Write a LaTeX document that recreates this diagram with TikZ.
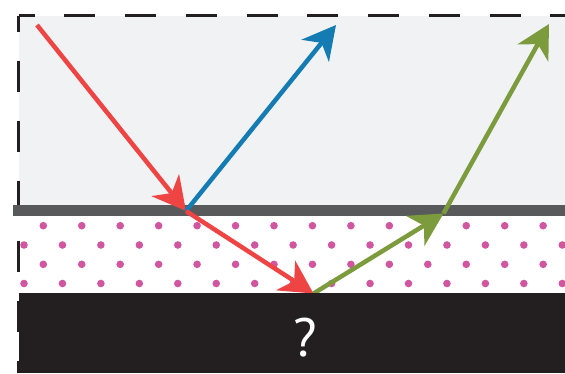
\documentclass[tikz,border=0pt]{standalone}
\usepackage{fontspec}
\setmainfont{PT Sans}
\usetikzlibrary{arrows.meta}
\definecolor{bgc}{HTML}{F1F2F4}
\definecolor{inkc}{HTML}{231F20}
\definecolor{barc}{HTML}{58595B}
\definecolor{dotc}{HTML}{D056A0}
\definecolor{redc}{HTML}{EF4444}
\definecolor{bluec}{HTML}{157CB3}
\definecolor{greenc}{HTML}{7B9B3C}
\tikzset{
  ray/.style={line width=4.5pt, -{Stealth[length=33pt,width=35pt,inset=10pt]}},
  border/.style={draw=inkc, line width=2.7pt},
}
\begin{document}
\begin{tikzpicture}[x=1pt,y=-1pt]
\useasboundingbox (0,0) rectangle (565,373);
% upper medium
\fill[bgc] (18.5,16) rectangle (565,205);
% dashed border
\draw[border, dash pattern=on 31pt off 29.75pt, dash phase=15pt] (18.5,15.7) -- (565,15.7);
\draw[border, dash pattern=on 31pt off 29pt, dash phase=15pt] (18.5,15.7) -- (18.5,373);
% dots
\foreach \r in {225.7,264.3} {\foreach \k in {0,...,13} {\fill[dotc] ({43.3+38.45*\k},\r) circle[radius=3.8pt];}}
\foreach \r in {245,283.5} {\foreach \k in {0,...,14} {\fill[dotc] ({24+38.45*\k},\r) circle[radius=3.8pt];}}
% interface
\draw[barc, line width=10.5pt] (13,210.3) -- (565,210.3);
% rays
\coordinate (s) at (37,25);
\coordinate (p1) at (186,211);
\coordinate (e1) at (336,25);
\coordinate (p2) at (313.5,293.5);
\coordinate (p3) at (443.5,213.5);
\coordinate (e2) at (549,24);
\draw[ray, redc] (s) -- (p1);
\draw[ray, bluec] (p1) -- (e1);
\draw[ray, redc] (p1) -- (p2);
\draw[ray, greenc] (p2) -- (p3);
\draw[ray, greenc] (p3) -- (e2);
% opaque bottom
\fill[inkc] (18.5,293) rectangle (565,373);
\node[text=white, inner sep=0pt, anchor=base, font=\fontsize{54}{60}\selectfont] (q) at (305,356) {?};
\end{tikzpicture}
\end{document}
